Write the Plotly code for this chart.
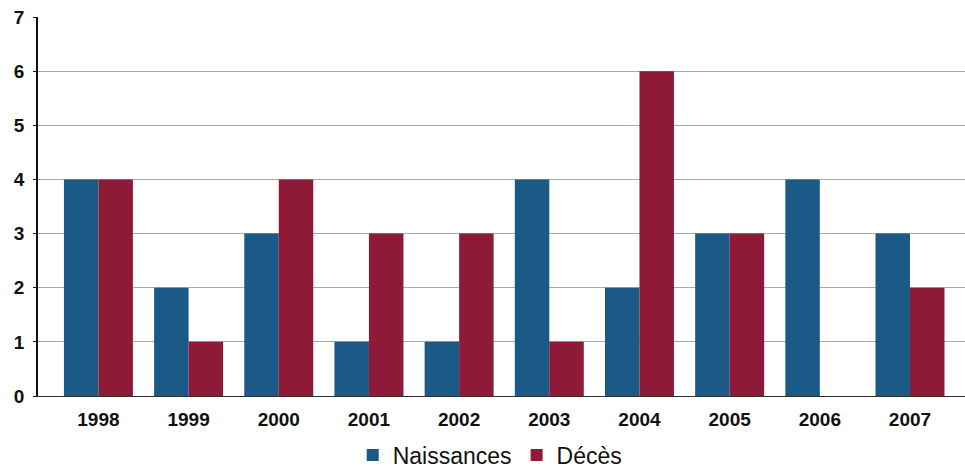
import plotly.graph_objects as go

years = ["1998", "1999", "2000", "2001", "2002", "2003", "2004", "2005", "2006", "2007"]
naissances = [4, 2, 3, 1, 1, 4, 2, 3, 4, 3]
deces = [4, 1, 4, 3, 3, 1, 6, 3, 0, 2]

fig = go.Figure()
fig.add_trace(go.Bar(x=years, y=naissances, name="Naissances", marker_color="#1b5a86", marker_line_width=0))
fig.add_trace(go.Bar(x=years, y=deces, name="Décès", marker_color="#8e1a37", marker_line_width=0))

fig.update_layout(
    width=965, height=470,
    margin=dict(l=38, r=0, t=17, b=74, autoexpand=False),
    paper_bgcolor="white", plot_bgcolor="white",
    barmode="group", bargap=0.235, bargroupgap=0,
    font=dict(family="Liberation Sans, Arial, sans-serif", color="#111", size=16),
    legend=dict(orientation="h", x=0.508, xanchor="center", xref="container",
                y=0.032, yanchor="middle", yref="container",
                font=dict(size=23), itemwidth=30, tracegroupgap=0),
    showlegend=True,
)
fig.update_xaxes(type="category", range=[-0.67, 9.61], showline=True, linecolor="#333", linewidth=1,
                 ticks="", tickfont=dict(size=19, weight="bold"), showgrid=False, ticklabelstandoff=6)
fig.update_yaxes(range=[0, 7], dtick=1, showline=True, linecolor="#111", linewidth=1.5,
                 ticks="outside", ticklen=3, tickcolor="#111", gridcolor="#aaaaaa", gridwidth=1,
                 tickfont=dict(size=19, weight="bold"), zeroline=False, ticklabelstandoff=5)

fig.write_html("out.html")
